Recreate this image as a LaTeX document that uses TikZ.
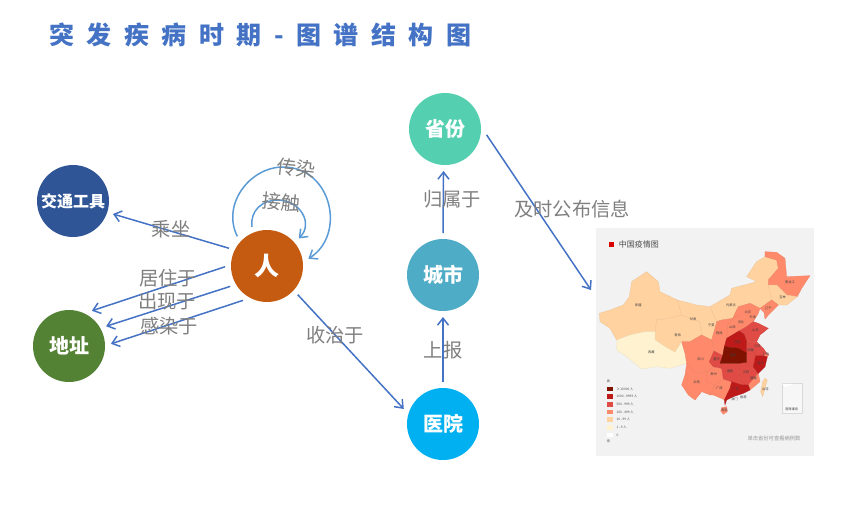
\documentclass[tikz,border=0pt]{standalone}
\usepackage{fontspec}
\setmainfont{Noto Sans CJK SC}
\usetikzlibrary{arrows.meta}
\definecolor{barrow}{HTML}{4472C4}
\definecolor{loopc}{HTML}{5B9BD5}
\definecolor{lab}{HTML}{7F7F7F}
\definecolor{ci}{HTML}{FFF2D0}
\definecolor{cii}{HTML}{FFD2A0}
\definecolor{ciii}{HTML}{FF8A6B}
\definecolor{civ}{HTML}{E04B45}
\definecolor{cv}{HTML}{BE1A1A}
\definecolor{cvi}{HTML}{7F1200}
\definecolor{ctool}{HTML}{2F5597}
\definecolor{caddr}{HTML}{548235}
\definecolor{cren}{HTML}{C55A11}
\definecolor{cprov}{HTML}{54D0B0}
\definecolor{ccity}{HTML}{4FACC6}
\definecolor{chosp}{HTML}{00B0F0}
\tikzset{
  ent/.style={circle,fill=#1,text=white,minimum size=72pt,inner sep=0pt,outer sep=6pt,font=\fontsize{20}{20}\selectfont\bfseries},
  rel/.style={draw=barrow,line width=1.5pt,-{Straight Barb[length=7pt,width=11pt]}},
  loopline/.style={draw=loopc,line width=1.5pt,-{Straight Barb[length=7pt,width=11pt]}},
  lbl/.style={text=lab,inner sep=0pt,font=\fontsize{19.3}{19.3}\selectfont},
  prov/.style={fill=#1,draw=#1!92!black,line width=0.25pt},
  pl/.style={inner sep=0pt,text=black!75,font=\fontsize{3.2}{3.2}\selectfont},
  legt/.style={inner sep=0pt,anchor=west,text=black!70,font=\fontsize{3.2}{3.2}\selectfont}
}
\begin{document}
\begin{tikzpicture}[x=1pt,y=-1pt]
\useasboundingbox (0,0) rectangle (853,504);
\node[anchor=west,inner sep=0pt,text=barrow,font=\fontsize{25}{25}\selectfont\bfseries] (title) at (49,35) {\spaceskip=12.5pt 突 发 疾 病 时 期 - 图 谱 结 构 图};

% map panel
\begin{scope}[shift={(590,225)},x=0.3333pt,y=-0.3333pt]
\fill[black!5] (18,8) rectangle (672,692);
\fill[red!85!black] (58,51) rectangle (73,66);
\node[anchor=west,inner sep=0pt,text=black!70,font=\fontsize{8}{8}\selectfont] (mt) at (86,58) {中国疫情图};
\path[prov=cii] (28,265)--(60,255)--(100,240)--(118,215)--(125,170)--(170,140)--(205,170)--(210,200)--(262,225)--(275,270)--(235,280)--(200,285)--(195,320)--(165,320)--(120,330)--(80,345)--(60,310)--(30,290)--cycle;
\path[prov=cii] (200,285)--(235,280)--(275,270)--(330,290)--(335,330)--(300,350)--(275,350)--(255,382)--(225,365)--(195,345)--(195,320)--cycle;
\path[prov=ci] (80,345)--(120,330)--(165,320)--(195,320)--(195,345)--(225,365)--(255,382)--(275,350)--(285,385)--(290,415)--(240,430)--(200,425)--(155,432)--(110,395)--(80,375)--cycle;
\path[prov=cii] (262,225)--(320,240)--(360,245)--(380,290)--(375,310)--(365,345)--(335,330)--(330,290)--(275,270)--cycle;
\path[prov=cii] (360,245)--(420,210)--(425,190)--(500,170)--(470,155)--(500,110)--(525,95)--(560,105)--(565,130)--(535,165)--(535,180)--(545,225)--(510,250)--(480,235)--(445,245)--(428,280)--(395,285)--(380,290)--cycle;
\path[prov=ciii] (525,80)--(560,82)--(585,100)--(590,155)--(660,152)--(635,190)--(622,215)--(590,210)--(560,180)--(535,180)--(535,165)--(565,130)--(560,105)--(525,95)--cycle;
\path[prov=cii] (535,180)--(560,180)--(590,210)--(622,215)--(590,240)--(565,240)--(545,225)--cycle;
\path[prov=ciii] (510,250)--(545,225)--(565,240)--(540,265)--(525,282)--(522,262)--cycle;
\path[prov=ciii] (428,280)--(445,245)--(480,235)--(510,250)--(505,265)--(490,290)--(470,305)--(447,318)--(445,272)--cycle;
\path[prov=ciii] (412,300)--(428,280)--(445,272)--(447,318)--(410,340)--cycle;
\path[prov=ciii] (380,290)--(395,285)--(428,280)--(412,300)--(410,340)--(403,365)--(398,392)--(372,378)--(365,345)--(375,310)--cycle;
\path[prov=ciii] (275,350)--(300,350)--(335,330)--(365,345)--(372,378)--(358,410)--(370,425)--(350,440)--(315,445)--(290,415)--(285,385)--cycle;
\path[prov=ciii] (290,415)--(315,445)--(350,440)--(352,470)--(375,480)--(360,510)--(335,500)--(315,525)--(295,510)--(275,480)--(285,450)--cycle;
\path[prov=ciii] (350,440)--(370,425)--(395,430)--(400,462)--(375,480)--(352,470)--cycle;
\path[prov=ciii] (375,480)--(400,462)--(425,470)--(420,490)--(405,525)--(370,510)--(360,510)--cycle;
\path[prov=civ] (358,410)--(372,378)--(398,392)--(390,415)--(395,430)--(370,425)--cycle;
\path[prov=civ] (470,305)--(490,290)--(505,295)--(535,310)--(510,330)--(500,350)--(470,350)--(462,328)--(447,318)--cycle;
\path[prov=civ] (470,350)--(500,350)--(520,370)--(530,385)--(520,392)--(497,392)--(480,365)--cycle;
\path[prov=civ] (470,350)--(480,365)--(497,392)--(490,425)--(470,412)--(470,385)--cycle;
\path[prov=ciii] (530,385)--(537,388)--(532,396)--(520,392)--cycle;
\path[prov=civ] (445,415)--(470,412)--(490,425)--(505,445)--(475,480)--(455,480)--(450,450)--cycle;
\path[prov=civ] (390,415)--(445,415)--(450,450)--(455,480)--(425,470)--(400,462)--(395,430)--cycle;
\path[prov=ciii] (505,445)--(510,470)--(480,495)--(475,480)--cycle;
\path[prov=cv] (497,392)--(520,392)--(532,396)--(525,425)--(505,445)--(490,425)--cycle;
\path[prov=cv] (425,470)--(455,480)--(475,480)--(480,495)--(460,505)--(430,515)--(410,525)--(405,540)--(403,525)--(420,490)--cycle;
\path[prov=cv] (410,340)--(447,318)--(462,328)--(470,350)--(470,385)--(445,370)--(403,365)--cycle;
\path[prov=cvi] (403,365)--(445,370)--(470,385)--(470,412)--(445,415)--(390,415)--(398,392)--cycle;
\path[prov=ciii] (395,548)--(410,545)--(412,560)--(400,568)--(392,558)--cycle;
\path[prov=cii] (525,460)--(532,465)--(525,490)--(518,515)--(512,500)--(518,470)--cycle;
\foreach \nm/\px/\py in {黑龙江/600/172,吉林/578/216,辽宁/535/250,内蒙古/423/240,北京/474/262,天津/488/278,河北/453/293,山西/427/308,山东/497/316,宁夏/364/302,陕西/388/326,甘肃/309/284,青海/263/331,新疆/145/241,西藏/184/381,四川/332/402,重庆/380/402,湖北/430/390,河南/442/351,安徽/482/376,江苏/502/363,上海/527/387,浙江/511/415,湖南/420/440,江西/468/442,福建/491/461,贵州/371/447,云南/320/472,广西/388/490,广东/437/493,香港/460/516,澳门/434/524,海南/403/555,台湾/526/494}
  \node[pl] (p\px) at (\px,\py) {\nm};
\draw[black!15,line width=0.3pt,fill=black!3] (575,475) rectangle (636,565);
\fill[white] (577,477)--(612,477)--(585,486)--cycle;
\node[pl] (nh) at (605,554) {南海诸岛};
\node[legt] (lh) at (50,470) {高};
\foreach \col/\yy/\tx in {cvi/492/{≥ 10000 人},cv/515/{1000 - 9999 人},civ/538/{500 - 999 人},ciii/561/{100 - 499 人},cii/584/{10 - 99 人},ci/607/{1 - 9 人},white/630/{0}}{
  \fill[\col] (50,\yy-7) rectangle (70,\yy+7);
  \node[legt] (l\yy) at (79,\yy) {\tx};
}
\node[legt] (ll) at (50,650) {低};
\node[anchor=west,inner sep=0pt,text=black!40,font=\fontsize{5.3}{5.3}\selectfont] (hint) at (472,642) {单击省份可查看病例数};
\end{scope}

% entities
\node[ent=ctool,font=\fontsize{16}{16}\selectfont\bfseries] (tool) at (73,201) {交通工具};
\node[ent=caddr] (addr) at (69,346) {地址};
\node[ent=cren,font=\fontsize{25}{25}\selectfont\bfseries] (ren) at (267,266) {人};
\node[ent=cprov] (prov) at (445,129) {省份};
\node[ent=ccity] (city) at (443,275) {城市};
\node[ent=chosp] (hosp) at (443,424) {医院};
\coordinate (mapin) at (591,290);
\coordinate (looptop) at (283,167);
\coordinate (innertop) at (278,200);

% connectors
\draw[rel] (ren.155) -- (tool.-18);
\draw[rel] (ren.181) -- (addr.57);
\draw[rel] (ren.209) -- (addr.28);
\draw[rel] (ren.235) -- (addr.3);
\draw[rel] (ren.-43) -- (hosp.159);
\draw[rel] (hosp.90) -- (city.270);
\draw[rel] (city.90) -- (prov.268);
\draw[rel] (prov.-8) -- (mapin);
\draw[loopline] (ren.135) .. controls +(-16,-32) and +(-33,0) .. (looptop) .. controls +(49,0) and +(38,-24) .. (ren.10);
\draw[loopline] (ren.111) .. controls +(-2,-16) and +(-16,0) .. (innertop) .. controls +(22,0) and +(15,-15) .. (ren.41);

% labels
\node[lbl,rotate=-6] (lchuan) at (296,168) {传染};
\node[lbl,rotate=-6] (ljie) at (281,202) {接触};
\node[lbl] (lcheng) at (171,229) {乘坐};
\node[lbl] (lju) at (168,278) {居住于};
\node[lbl] (lchu) at (167,301) {出现于};
\node[lbl] (lgan) at (169,326) {感染于};
\node[lbl] (lshou) at (335,335) {收治于};
\node[lbl] (lshang) at (443,350) {上报};
\node[lbl] (lgui) at (452,199) {归属于};
\node[lbl] (lji) at (572,209) {及时公布信息};
\end{tikzpicture}
\end{document}
